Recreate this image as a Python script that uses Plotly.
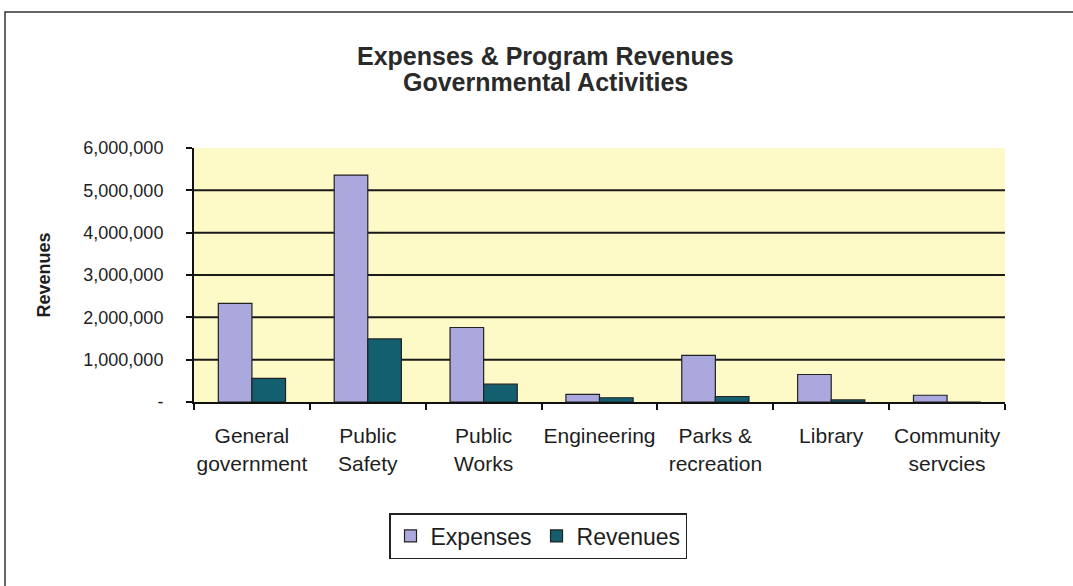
import plotly.graph_objects as go

# Governmental activities: expenses vs. program revenues
categories = [
    "General<br>government",
    "Public<br>Safety",
    "Public<br>Works",
    "Engineering",
    "Parks &<br>recreation",
    "Library",
    "Community<br>servcies",
]
expenses = [2330000, 5360000, 1760000, 180000, 1100000, 650000, 160000]
revenues = [560000, 1490000, 420000, 100000, 130000, 50000, 0]

y_tick_values = [0, 1000000, 2000000, 3000000, 4000000, 5000000, 6000000]
y_tick_labels = ["-", "1,000,000", "2,000,000", "3,000,000",
                 "4,000,000", "5,000,000", "6,000,000"]
grid_levels = [1000000, 2000000, 3000000, 4000000, 5000000]

W, H = 1073, 586
L, R, T, B = 194, 1005, 148, 402  # plot area edges in pixels


def px_x(x):
    return (x - L) / (R - L)


def px_y(y):
    return (B - y) / (B - T)


FONT = "Liberation Sans, Arial, sans-serif"
INK = "#1e1e1e"

fig = go.Figure()
fig.add_trace(go.Bar(
    name="Expenses", x=categories, y=expenses,
    marker=dict(color="#aba8de", line=dict(color="#222222", width=1.2)),
))
fig.add_trace(go.Bar(
    name="Revenues", x=categories, y=revenues,
    marker=dict(color="#135f70", line=dict(color="#222222", width=1.2)),
))

for g in grid_levels:
    fig.add_hline(y=g, line=dict(color="#1a1a1a", width=2), layer="below")

# outer chart frame
fig.add_shape(type="rect", xref="paper", yref="paper",
              x0=px_x(5), x1=px_x(1090), y0=px_y(600), y1=px_y(12),
              line=dict(color="#333333", width=1.5), fillcolor="rgba(0,0,0,0)")

# two-line title
for line_text, y_px in [("Expenses & Program Revenues", 56),
                        ("Governmental Activities", 82)]:
    fig.add_annotation(text="<b>" + line_text + "</b>", xref="paper", yref="paper",
                       x=px_x(545), y=px_y(y_px), xanchor="center", yanchor="middle",
                       showarrow=False,
                       font=dict(family=FONT, size=25, color="#2a2a2a"))

fig.update_layout(
    width=W, height=H,
    margin=dict(l=L, r=W - R, t=T, b=H - B),
    paper_bgcolor="white",
    plot_bgcolor="#fdfac8",
    barmode="group",
    bargap=0.42,
    bargroupgap=0,
    font=dict(family=FONT, color=INK),
    showlegend=True,
    legend=dict(
        orientation="h",
        x=px_x(538), y=px_y(536), xanchor="center", yanchor="middle",
        font=dict(family=FONT, size=23, color=INK),
        bordercolor="#222222", borderwidth=1.5, bgcolor="white",
        itemwidth=30,
    ),
    xaxis=dict(
        showgrid=False, showline=True, linecolor="#111111", linewidth=2,
        ticks="outside", ticklen=6, tickcolor="#111111", tickwidth=1.5,
        tickson="boundaries", tickangle=0, ticklabelstandoff=14,
        tickfont=dict(family=FONT, size=21, color=INK),
    ),
    yaxis=dict(
        range=[0, 6000000],
        tickvals=y_tick_values, ticktext=y_tick_labels,
        showgrid=False, zeroline=False,
        showline=True, linecolor="#111111", linewidth=2,
        ticks="outside", ticklen=6, tickcolor="#111111", tickwidth=1.5,
        ticklabelstandoff=19,
        tickfont=dict(family=FONT, size=18, color=INK),
        title=dict(text="<b>Revenues</b>", font=dict(family=FONT, size=18, color=INK),
                   standoff=28),
    ),
)

fig.write_html("out.html")
